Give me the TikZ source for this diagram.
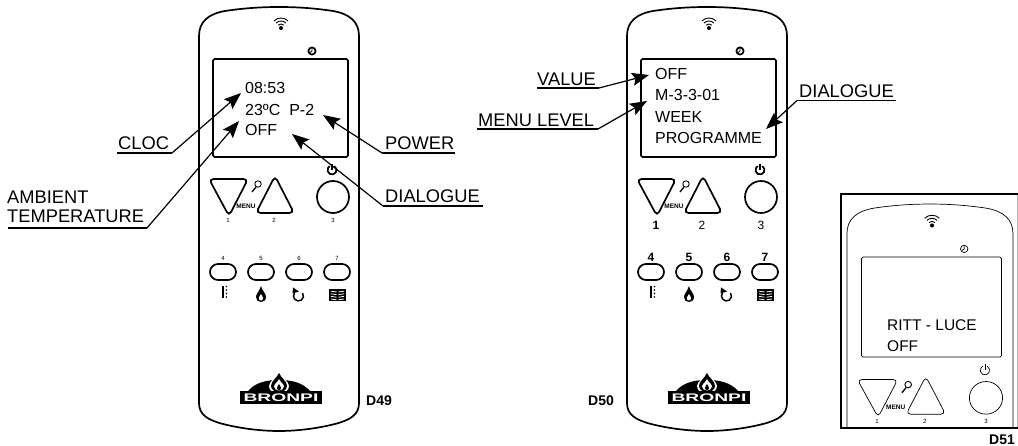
\documentclass[tikz,border=0pt]{standalone}
\usepackage{fontspec}
\setmainfont{Liberation Sans}
\usetikzlibrary{arrows.meta, positioning, calc}
\newcommand{\fsz}[1]{\fontsize{#1}{#1}\selectfont}
% upper handset: #1 outline width, #2 font of 1, #3 font of 2,3, #4 y of 1-3
\newcommand{\remotetop}[4]{
  \draw[line width=#1] (199,403) -- (199,36) .. controls (199,22) and (208,14) .. (225,11) .. controls (245,8) and (262,7) .. (279,7)
    .. controls (296,7) and (313,8) .. (333,11) .. controls (350,14) and (359,22) .. (359,36) -- (359,403)
    .. controls (359,415) and (350,420) .. (335,424) .. controls (315,429) and (295,431) .. (279,431)
    .. controls (263,431) and (243,429) .. (223,424) .. controls (208,420) and (199,415) .. (199,403);
  \draw[line width=#1, rounded corners=1.5] (213,59) rectangle (348,157);
  % wifi and clock
  \fill (281,28) circle[radius=2];
  \foreach \r in {4,7,10} \draw[line width=0.9] ($(281,28)+(225:\r)$) arc[start angle=225, end angle=315, radius=\r];
  \draw[line width=#1] (312,51) circle[radius=3.6];
  \draw[line width=0.8] (312,48.5) -- (312,51) -- (310,52.5);
  % power icon
  \draw[line width=#1] ($(332,170)+(300:4.5)$) arc[start angle=300, end angle=600, radius=4.5];
  \draw[line width=#1] (332,164) -- (332,170);
  % arrow buttons
  \draw[line width=#1, rounded corners=4.5] (209,179) -- (248,179) -- (229,216) -- cycle;
  \draw[line width=#1, rounded corners=4.5] (256,213) -- (294,213) -- (275,176) -- cycle;
  \draw[line width=#1] (333,197) circle[radius=16];
  \draw[line width=0.9] (258,184) circle[radius=3.2];
  \draw[line width=1.3] (256,187) -- (252,192);
  \node[font=\fsz{6.5}\bfseries, inner sep=0] (menu) at (246,206.5) {MENU};
  \node[font=#2, inner sep=0] (n1) at (228,#4) {1};
  \node[font=#3, inner sep=0] (n2) at (274,#4) {2};
  \node[font=#3, inner sep=0] (n3) at (333,#4) {3};
}
% lower handset: #1 outline width, #2 font of 4-7, #3 y of 4-7
\newcommand{\remotelow}[3]{
  \foreach \x/\n in {223/4,261/5,299/6,337/7} {
    \draw[line width=#1] (\x,272) ++(-5,-8) -- ++(10,0) arc[start angle=270, end angle=450, radius=8] -- ++(-10,0) arc[start angle=90, end angle=270, radius=8] -- cycle;
    \node[font=#2, inner sep=0] (n\n) at (\x,#3) {\n};
  }
  % icons under the buttons
  \fill (221.5,286) rectangle (223.7,298);
  \foreach \y in {286.5,290,293.5,297} \fill (226.5,\y) circle[radius=0.9];
  \fill (261,286) .. controls (262,291) and (266,293) .. (266,297) .. controls (266,300.5) and (263,302) .. (261,302)
    .. controls (258,302) and (256,300) .. (256,297) .. controls (256,294) and (259,292) .. (261,286);
  \fill[white] (261,294) .. controls (262,296) and (263,297) .. (263,298) .. controls (263,300) and (262,300.5) .. (261,300.5)
    .. controls (259.5,300.5) and (258.8,299.5) .. (258.8,298) .. controls (258.8,297) and (260,296) .. (261,294);
  \draw[line width=1.5] ($(298.5,296)+(-35:5)$) arc[start angle=-35, end angle=215, radius=5];
  \fill (293,287.5) -- (299,291.5) -- (292.5,293.5) -- cycle;
  \fill (329,289) rectangle (346,301);
  \foreach \y in {291.2,293.8,296.4,299} {
    \draw[white, line width=0.8] (331,\y) -- (336.5,\y+0.8);
    \draw[white, line width=0.8] (338.5,\y+0.8) -- (344,\y);
  }
  % logo
  \fill (248,391) .. controls (255,383) and (265,380) .. (279,380) .. controls (293,380) and (303,383) .. (310,391) -- cycle;
  \fill[white] (279,372) .. controls (281,378) and (289,381) .. (289,386) .. controls (289,391) and (284,393) .. (279,393)
    .. controls (274,393) and (269,391) .. (269,386) .. controls (269,381) and (277,378) .. (279,372);
  \fill (279,373) .. controls (281,378) and (287,381) .. (287,386) .. controls (287,390) and (283,392) .. (279,392)
    .. controls (275,392) and (271,390) .. (271,386) .. controls (271,381) and (277,378) .. (279,373);
  \fill[white] (279,379) .. controls (280,382) and (284,384) .. (284,386.5) .. controls (284,389) and (281,390.5) .. (279,390.5)
    .. controls (277,390.5) and (274,389) .. (274,386.5) .. controls (274,384) and (278,382) .. (279,379);
  \fill (279,384) .. controls (280,386) and (281,386.5) .. (281,388) .. controls (281,389.5) and (280,390) .. (279,390)
    .. controls (278,390) and (277,389.5) .. (277,388) .. controls (277,386.5) and (278,386) .. (279,384);
  \fill (240,391) rectangle (322,404);
  \node[font=\fsz{11}\bfseries, text=white, inner sep=0] (logo) at (281,397.7) {\scalebox{1.75}[1]{BRONPI}};
}
\begin{document}
\begin{tikzpicture}[x=1pt, y=-1pt,
  lcd/.style={font=\fsz{16}, inner sep=0, anchor=base west},
  callout/.style={font=\fsz{18.3}, inner sep=0, anchor=base west, align=left},
  tag/.style={font=\fsz{14}\bfseries, inner sep=0, anchor=base west},
  leader/.style={line width=1.2pt, -{Stealth[length=17pt,width=13pt,inset=3pt]}},
  rule/.style={line width=1.2pt}
]
\useasboundingbox (0,0) rectangle (1018,446);
% D49
\remotetop{1.7}{\fsz{6}}{\fsz{6}}{220}
\remotelow{1.7}{\fsz{6}}{258}
\node[lcd] (time) at (245,94) {08:53};
\node[lcd] (temp) at (245,116) {23ºC\ \ P-2};
\node[lcd] (off) at (245,136) {OFF};
\node[callout] (cloc) at (118,150) {CLOC};
\node[callout] (ambient) at (7,204) {AMBIENT};
\node[callout] (temperature) at (7,222.5) {TEMPERATURE};
\node[callout] (power) at (385,150) {POWER};
\node[callout] (dialogueA) at (385,203) {DIALOGUE};
\node[tag] (dA) at (366,406) {D49};
\coordinate (cloctip) at (241,93);
\coordinate (ambtip) at (239,121);
\coordinate (powertip) at (323,115);
\coordinate (dialtip) at (292,134);
\coordinate (clocknee) at (172,153);
\coordinate (ambknee) at (147,228);
\coordinate (powerknee) at (382,153);
\coordinate (dialknee) at (383,206);
\draw[rule] (117,153) -- (clocknee);
\draw[leader] (clocknee) -- (cloctip);
\draw[rule] (8,228) -- (ambknee);
\draw[leader] (ambknee) -- (ambtip);
\draw[rule] (455,153) -- (powerknee);
\draw[leader] (powerknee) -- (powertip);
\draw[rule] (483,206) -- (dialknee);
\draw[leader] (dialknee) -- (dialtip);
% D50
\begin{scope}[shift={(428,0)}]
\remotetop{1.7}{\fsz{12}\bfseries}{\fsz{12}}{225}
\remotelow{1.7}{\fsz{12}\bfseries}{257}
\end{scope}
\node[lcd] (val) at (655,80) {OFF};
\node[lcd] (lev) at (655,101) {M-3-3-01};
\node[lcd] (week) at (655,123) {WEEK};
\node[lcd] (prog) at (655,144) {PROGRAMME};
\node[callout] (value) at (537,86) {VALUE};
\node[callout] (menulevel) at (478,127) {MENU LEVEL};
\node[callout] (dialogueB) at (799,97.5) {DIALOGUE};
\node[tag] (dB) at (588,406) {D50};
\coordinate (valtip) at (649,75);
\coordinate (levtip) at (647,101);
\coordinate (progtip) at (766,129);
\coordinate (valknee) at (599,88);
\coordinate (levknee) at (598,129);
\coordinate (progknee) at (797,100.5);
\draw[rule] (537,88) -- (valknee);
\draw[leader] (valknee) -- (valtip);
\draw[rule] (477,129) -- (levknee);
\draw[leader] (levknee) -- (levtip);
\draw[rule] (896,100.5) -- (progknee);
\draw[leader] (progknee) -- (progtip);
% D51
\begin{scope}
\clip (841,194) rectangle (1018,428);
\begin{scope}[shift={(640.5,196.9)}, xscale=1.0375, yscale=1.02]
\remotetop{0.7}{\fsz{6}}{\fsz{6}}{220}
\end{scope}
\end{scope}
\draw[gray!60, line width=0.6] (1017.4,194) -- (1017.4,428);
\draw[line width=2] (1018,194) -- (841,194) -- (841,428) -- (1018,428);
\node[lcd, font=\fsz{15.5}] (ritt) at (887,331) {RITT - LUCE};
\node[lcd, font=\fsz{15.5}] (offB) at (887,352) {OFF};
\node[tag] (dC) at (989,444.5) {D51};
\end{tikzpicture}
\end{document}
